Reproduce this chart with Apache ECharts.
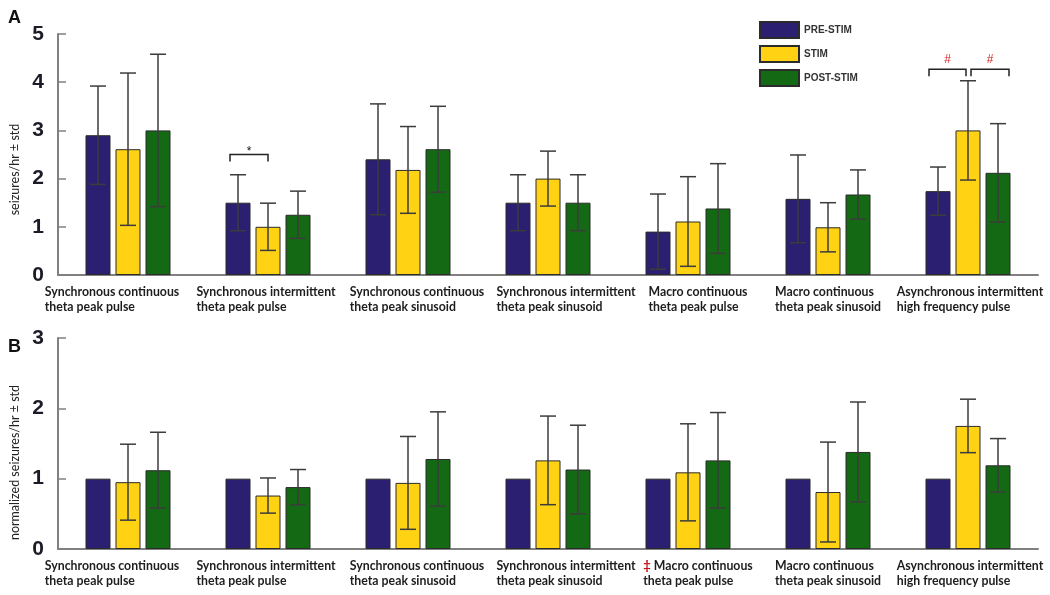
<!DOCTYPE html>
<html><head><meta charset="utf-8">
<script src="https://cdn.jsdelivr.net/npm/echarts@6/dist/echarts.min.js"></script>
<style>html,body{margin:0;padding:0;background:#fff}#c{width:1050px;height:595px}</style>
</head><body><div id="c"></div>
<script>
// ---------- data ----------
const categories = [
  'Synchronous continuous\ntheta peak pulse',
  'Synchronous intermittent\ntheta peak pulse',
  'Synchronous continuous\ntheta peak sinusoid',
  'Synchronous intermittent\ntheta peak sinusoid',
  'Macro continuous\ntheta peak pulse',
  'Macro continuous\ntheta peak sinusoid',
  'Asynchronous intermittent\nhigh frequency pulse'
];
const seriesNames = ['PRE-STIM', 'STIM', 'POST-STIM'];
// Panel A: seizures/hr (mean, std)
const preA      = [2.90, 1.50, 2.40, 1.50, 0.90, 1.58, 1.74];
const preAStd   = [1.02, 0.58, 1.15, 0.58, 0.78, 0.91, 0.50];
const stimA     = [2.61, 1.00, 2.18, 2.00, 1.11, 0.99, 3.00];
const stimAStd  = [1.58, 0.49, 0.90, 0.57, 0.93, 0.51, 1.03];
const postA     = [3.00, 1.25, 2.61, 1.50, 1.38, 1.67, 2.12];
const postAStd  = [1.58, 0.49, 0.89, 0.58, 0.93, 0.51, 1.02];
// Panel B: normalized seizures/hr (mean, std)
const preB      = [1, 1, 1, 1, 1, 1, 1];
const stimB     = [0.95, 0.76, 0.94, 1.26, 1.09, 0.81, 1.75];
const stimBStd  = [0.54, 0.25, 0.66, 0.63, 0.69, 0.71, 0.38];
const postB     = [1.12, 0.88, 1.28, 1.13, 1.26, 1.38, 1.19];
const postBStd  = [0.54, 0.25, 0.67, 0.63, 0.68, 0.71, 0.38];
const yTicksA = [0, 1, 2, 3, 4, 5];
const yTicksB = [0, 1, 2, 3];
// significance annotations (panel A): category, bar from/to, bracket height, mark
const sigCats  = [1, 6, 6];
const sigFrom  = [0, 0, 1];
const sigTo    = [1, 1, 2];
const sigY     = [2.5, 4.27, 4.27];
const sigMarks = ['*', '#', '#'];
const daggerCats = [4]; // panel B

// ---------- layout / style ----------
const colors = ['#2a1f70', '#ffd214', '#146a14'];
const BAR_W = 25, BAR_GAP = 5;
const barOffset = k => (k - 1) * (BAR_W + BAR_GAP);
const labelShift = [-16, -2, 9, 18, 10, 0, 2];
const sigDx = [[-8, 0], [-9, -2], [3, 11]];
const sigColor = ['#111', '#d42020', '#d42020'];
const sigTextDy = [3, -3, -3];

function catData() {
  return categories.map((c, i) => {
    const s = labelShift[i];
    return { value: c, textStyle: { padding: s < 0 ? [0, -2 * s, 0, 0] : [0, 0, 0, 2 * s] } };
  });
}
function labelFormatter(withDagger) {
  return (v, idx) => {
    const lines = v.split('\n');
    if (withDagger && daggerCats.includes(idx)) {
      return '{d|\u2021}{t| ' + lines[0] + '}\n{t|' + lines[1] + '}';
    }
    return lines.map(l => '{t|' + l + '}').join('\n');
  };
}
const labelRich = {
  t: { fontFamily: 'Lato', fontWeight: 'bold', fontSize: 12.3, color: '#1e1e1e', align: 'left', lineHeight: 15 },
  d: { fontFamily: 'Lato', fontWeight: 'bold', fontSize: 13, color: '#c01010', align: 'left', verticalAlign: 'top', lineHeight: 13 }
};
const axisGray = '#808080';

function xAxisFor(gi, withDagger) {
  return {
    type: 'category', gridIndex: gi, data: catData(),
    axisLine: { lineStyle: { color: axisGray, width: 2 } },
    axisTick: { show: false },
    axisLabel: { interval: 0, margin: 10, formatter: labelFormatter(withDagger), rich: labelRich, align: 'center' }
  };
}
function yAxisFor(gi, ticks, name, namePad) {
  return {
    type: 'value', gridIndex: gi, min: ticks[0], max: ticks[ticks.length - 1], interval: 1,
    axisLine: { show: true, lineStyle: { color: axisGray, width: 2 } },
    axisTick: { show: true, inside: true, length: 8, lineStyle: { color: axisGray, width: 1.5 } },
    splitLine: { show: false },
    axisLabel: { fontFamily: 'Liberation Sans', fontWeight: 'bold', fontSize: 21, color: '#1c1c28', margin: 14 },
    name: name, nameLocation: 'middle', nameGap: 33,
    nameTextStyle: { fontFamily: 'Lato', fontSize: 12.5, color: '#222', padding: [0, namePad, 0, 0] }
  };
}

function barSeries(k, data, gi) {
  return {
    type: 'bar', name: seriesNames[k], xAxisIndex: gi, yAxisIndex: gi,
    data: data, barWidth: BAR_W, barGap: (BAR_GAP / BAR_W * 100) + '%',
    itemStyle: { color: colors[k], borderColor: '#2b2b2b', borderWidth: 1 },
    z: 2
  };
}
function errSeries(k, mean, std, gi) {
  return {
    type: 'custom', xAxisIndex: gi, yAxisIndex: gi, z: 5,
    data: mean.map((m, i) => [i, m - std[i], m + std[i]]),
    encode: { x: 0, y: [1, 2] },
    renderItem: (params, api) => {
      const c = api.value(0);
      const lo = api.coord([c, api.value(1)]);
      const hi = api.coord([c, api.value(2)]);
      const x = lo[0] + barOffset(k);
      const cw = 8;
      const st = { stroke: '#3c3c3c', lineWidth: 1.5 };
      return { type: 'group', children: [
        { type: 'line', shape: { x1: x, y1: lo[1], x2: x, y2: hi[1] }, style: st },
        { type: 'line', shape: { x1: x - cw, y1: hi[1], x2: x + cw, y2: hi[1] }, style: st },
        { type: 'line', shape: { x1: x - cw, y1: lo[1], x2: x + cw, y2: lo[1] }, style: st }
      ] };
    }
  };
}
const sigSeries = {
  type: 'custom', xAxisIndex: 0, yAxisIndex: 0, z: 6,
  data: sigCats.map((c, i) => [c, sigY[i]]),
  renderItem: (params, api) => {
    const i = params.dataIndex;
    const p = api.coord([api.value(0), api.value(1)]);
    const x0 = p[0] + barOffset(sigFrom[i]) + sigDx[i][0];
    const x1 = p[0] + barOffset(sigTo[i]) + sigDx[i][1];
    const y = p[1];
    return { type: 'group', children: [
      { type: 'polyline', shape: { points: [[x0, y + 7], [x0, y], [x1, y], [x1, y + 7]] }, style: { stroke: '#222', lineWidth: 1.5, fill: null } },
      { type: 'text', style: { text: sigMarks[i], x: (x0 + x1) / 2, y: y + sigTextDy[i], align: 'center', verticalAlign: 'bottom',
        fill: sigColor[i], fontSize: 12, fontFamily: 'Liberation Sans' } }
    ] };
  }
};

const chart = echarts.init(document.getElementById('c'), null, { renderer: 'canvas' });
chart.setOption({
  animation: false,
  backgroundColor: '#fff',
  grid: [
    { left: 58, right: 12, top: 34, height: 241 },
    { left: 58, right: 12, top: 338, height: 211 }
  ],
  legend: {
    data: seriesNames, orient: 'vertical', left: 754, top: 16,
    itemWidth: 39, itemHeight: 16, itemGap: 6, icon: 'rect',
    textStyle: { fontFamily: 'Liberation Sans', fontWeight: 'bold', fontSize: 10, color: '#333' }
  },
  xAxis: [xAxisFor(0, false), xAxisFor(1, true)],
  yAxis: [yAxisFor(0, yTicksA, 'seizures/hr \u00b1 std', 30), yAxisFor(1, yTicksB, 'normalized seizures/hr \u00b1 std', 38)],
  graphic: [
    { type: 'text', left: 8, top: 9, style: { text: 'A', fontFamily: 'Liberation Sans', fontWeight: 'bold', fontSize: 18, fill: '#111' } },
    { type: 'text', left: 8, top: 338, style: { text: 'B', fontFamily: 'Liberation Sans', fontWeight: 'bold', fontSize: 18, fill: '#111' } }
  ],
  series: [
    barSeries(0, preA, 0), barSeries(1, stimA, 0), barSeries(2, postA, 0),
    errSeries(0, preA, preAStd, 0), errSeries(1, stimA, stimAStd, 0), errSeries(2, postA, postAStd, 0),
    sigSeries,
    barSeries(0, preB, 1), barSeries(1, stimB, 1), barSeries(2, postB, 1),
    errSeries(1, stimB, stimBStd, 1), errSeries(2, postB, postBStd, 1)
  ]
});
</script></body></html>
